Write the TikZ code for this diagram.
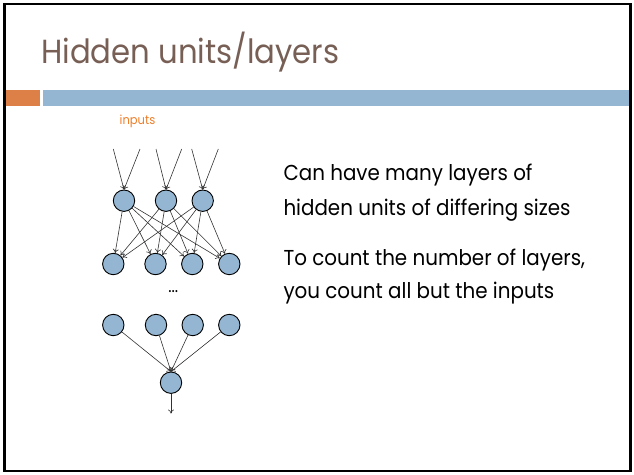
\documentclass[tikz,border=0pt]{standalone}
\usepackage{fontspec}
\setmainfont{Poppins}[FakeStretch=0.92]
\usepackage{tikz}
\usetikzlibrary{arrows.meta}
\definecolor{titlebrown}{RGB}{119,95,85}
\definecolor{barorange}{RGB}{221,128,71}
\definecolor{unitblue}{RGB}{148,182,210}
\definecolor{inorange}{RGB}{240,125,40}
\definecolor{edgegray}{RGB}{50,50,50}

\begin{document}
\begin{tikzpicture}[x=1pt,y=-1pt,
    unit/.style={circle,draw=black,line width=0.9pt,fill=unitblue,
                 minimum size=21.4pt,inner sep=0pt},
    edge/.style={draw=edgegray,line width=0.6pt,-{To[length=4pt,width=6pt]}},
    bodyline/.style={anchor=base west,inner sep=0pt,font=\fontsize{21.6}{25}\selectfont}]
    \useasboundingbox (0,0) rectangle (634,474);

    % slide frame and header bars
    \draw[line width=2.5pt] (4.5,4) rectangle (630.5,471);
    \fill[barorange] (6,90) rectangle (40,106);
    \fill[unitblue] (42.7,90) rectangle (629,106);

    \node[anchor=base west,inner sep=0pt,text=titlebrown,
          font=\fontsize{33.4}{38}\selectfont] (title) at (41,63.3) {Hidden units/layers};

    \node[text=inorange,font=\fontsize{12.5}{14}\selectfont] (inputs) at (137.5,121) {inputs};

    % units
    \node[unit] (t1) at (124,200.7) {};
    \node[unit] (t2) at (166,200.7) {};
    \node[unit] (t3) at (202.7,200.7) {};

    \node[unit] (h1) at (113.3,264) {};
    \node[unit] (h2) at (155.5,264) {};
    \node[unit] (h3) at (192.3,264) {};
    \node[unit] (h4) at (229.3,264) {};

    \node[font=\fontsize{17}{18}\selectfont] (dots) at (173.3,292) {...};

    \node[unit] (g1) at (113.3,325) {};
    \node[unit] (g2) at (156,325) {};
    \node[unit] (g3) at (192.7,325) {};
    \node[unit] (g4) at (229.3,325) {};

    \node[unit] (out) at (171,382.7) {};

    % free ends of the input and output arrows
    \coordinate (a1) at (113.3,149);
    \coordinate (b1) at (140,149);
    \coordinate (a2) at (156,149);
    \coordinate (b2) at (181.7,149);
    \coordinate (a3) at (191.7,149);
    \coordinate (b3) at (218.3,149);
    \coordinate (res) at (171,413.5);

    \foreach \i in {1,2,3} {
        \draw[edge] (a\i) -- (t\i.north);
        \draw[edge] (b\i) -- (t\i.north);
    }
    \foreach \i in {1,2,3} {
       \foreach \j in {1,...,4} {
         \draw[edge] (t\i) -- (h\j);
       }
    }
    \foreach \j in {1,...,4} {
        \draw[edge] (g\j) -- (out.north);
    }
    \draw[edge] (out) -- (res);

    \node[bodyline] (l1) at (283.3,180) {Can have many layers of};
    \node[bodyline] (l2) at (283.3,215) {hidden units of differing sizes};
    \node[bodyline] (l3) at (283.3,265) {To count the number of layers,};
    \node[bodyline] (l4) at (283.3,298.3) {you count all but the inputs};
\end{tikzpicture}
\end{document}
